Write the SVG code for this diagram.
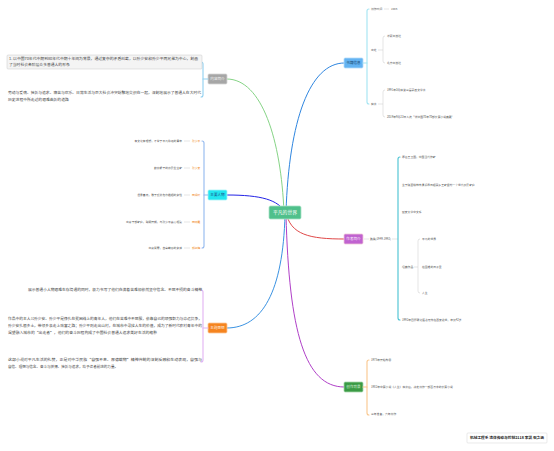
<svg xmlns="http://www.w3.org/2000/svg" width="554" height="451" viewBox="0 0 554 451">
<style>
text{font-family:"Noto Sans CJK SC","Noto Sans",sans-serif}
.p{font-size:3.8px;fill:#444}
.s{font-size:2.8px;fill:#555}
.n{font-size:2.8px;fill:#f08a24}
.b{font-size:3.6px;text-anchor:middle}
.br{fill:none;stroke-width:1.1;stroke-linecap:round}
.g{fill:none;stroke:#c8c8c8;stroke-width:0.5}
.c{fill:none;stroke-width:1;stroke-linecap:round}
</style>
<rect width="554" height="451" fill="#fff"/>
<g id="connectors">
<path class="c" stroke="#86d486" d="M284,212 C281,140 262,79 227,79"/>
<path class="c" stroke="#2f86e0" d="M286,212 C289,120 310,63 344,63"/>
<path class="c" stroke="#2222e6" d="M285,212 C278,200 262,195 227,195"/>
<path class="c" stroke="#e04848" d="M286,212 C290,235 310,239 344,239"/>
<path class="c" stroke="#3a92e2" d="M285,215 C283,292 262,328 227,328"/>
<path class="c" stroke="#b040c8" d="M286,215 C289,332 305,387 344,387"/>
</g>
<g id="center">
<rect x="269" y="206" width="32" height="13" rx="1.5" fill="#4fc08b" stroke="#a8e2c6" stroke-width="0.8"/>
<text x="285" y="214.3" font-size="4.8" fill="#fff" text-anchor="middle">平凡的世界</text>
</g>
<g id="intro">
<rect x="208" y="74" width="19" height="10" rx="1.2" fill="#a6a6a6" stroke="#d6d6d6" stroke-width="0.8"/>
<text class="b" x="217.5" y="80.3" fill="#f2f2f2">内容简介</text>
<path class="br" stroke="#8fd0f0" d="M208,79 H203"/>
<path class="br" stroke="#8fd0f0" d="M201,62 Q203,62 203,64 V95 Q203,97 201,97"/>
<rect x="7" y="55" width="195" height="14" rx="1" fill="#f4f4f4" stroke="#c8c8c8" stroke-width="0.5"/>
<text class="p" x="9" y="59.6" textLength="189" lengthAdjust="spacingAndGlyphs">1. 以中国70年代中期到80年代中期十年间为背景，通过复杂的矛盾纠葛，以孙少安和孙少平两兄弟为中心，刻画</text>
<text class="p" x="9" y="66.3">了当时社会各阶层众多普通人的形象</text>
<text class="p" x="8" y="94.3" textLength="193" lengthAdjust="spacingAndGlyphs">劳动与爱情、挫折与追求、痛苦与欢乐、日常生活与巨大社会冲突纷繁地交织在一起，深刻地展示了普通人在大时代</text>
<text class="p" x="8" y="101.3">历史进程中所走过的艰难曲折的道路</text>
</g>
<g id="bookinfo">
<rect x="344" y="58" width="19" height="10" rx="1.2" fill="#63b3f2" stroke="#b4dcfa" stroke-width="0.8"/>
<text class="b" x="353.5" y="64.3" fill="#1f4e79">书籍信息</text>
<path class="br" stroke="#a2e4f2" d="M363,63 H367"/>
<path class="br" stroke="#a2e4f2" d="M369,9 Q367,9 367,11 V102 Q367,104 369,104"/>
<text class="s" x="371" y="10">创作时间</text>
<path class="g" d="M384,9 H389"/>
<text class="s" x="391" y="10">1986</text>
<text class="s" x="371" y="51">出处</text>
<path class="g" d="M378,50 H383"/>
<path class="g" d="M385,36 Q383,36 383,38 V61 Q383,63 385,63"/>
<text class="s" x="387" y="37">华夏出版社</text>
<text class="s" x="387" y="64">北京出版社</text>
<text class="s" x="371" y="105">获奖</text>
<path class="g" d="M378,104 H383"/>
<path class="g" d="M385,90 Q383,90 383,92 V115 Q383,117 385,117"/>
<text class="s" x="387" y="91">1991年3月获第三届茅盾文学奖</text>
<text class="s" x="387" y="118">2019年9月23日入选“新中国70年70部长篇小说典藏”</text>
</g>
<g id="characters">
<rect x="208" y="190" width="19" height="10" rx="1.2" fill="#22e6f0" stroke="#a6f4f8" stroke-width="0.8"/>
<text class="b" x="217.5" y="196.3" fill="#1a4f8a">主要人物</text>
<path class="br" stroke="#92b8ee" d="M208,195 H204"/>
<path class="br" stroke="#92b8ee" d="M202,141 Q204,141 204,143 V246 Q204,248 202,248"/>
<text class="s" x="182" y="142" text-anchor="end">有文化有理想，不甘于平凡命运的青年</text>
<path class="g" d="M184,141 H190"/>
<text class="n" x="192" y="142">孙少平</text>
<text class="s" x="182" y="169" text-anchor="end">勤劳能干的农民企业家</text>
<path class="g" d="M184,168 H190"/>
<text class="n" x="192" y="169">孙少安</text>
<text class="s" x="182" y="196" text-anchor="end">温柔善良，敢于反抗包办婚姻的女性</text>
<path class="g" d="M184,195 H190"/>
<text class="n" x="192" y="196">田润叶</text>
<text class="s" x="182" y="223" text-anchor="end">出身干部家庭，聪明开朗，与孙少平真心相爱</text>
<path class="g" d="M184,222 H190"/>
<text class="n" x="192" y="223">田晓霞</text>
<text class="s" x="182" y="249" text-anchor="end">出身贫寒，自卑敏感的女孩</text>
<path class="g" d="M184,248 H190"/>
<text class="n" x="192" y="249">郝红梅</text>
</g>
<g id="author">
<rect x="344" y="234" width="19" height="10" rx="1.2" fill="#c062d0" stroke="#f0c8d8" stroke-width="0.8"/>
<text class="b" x="353.5" y="240.3" fill="#f8eafc">作者简介</text>
<path class="g" d="M364,239 H369"/>
<text class="s" x="370" y="240">路遥(1949-1992)</text>
<path class="g" d="M392,239 H398"/>
<path class="br" stroke="#48c2d2" d="M400,157 Q398,157 398,159 V318 Q398,320 400,320"/>
<text class="s" x="402" y="158">原名王卫国，中国当代作家</text>
<text class="s" x="402" y="186">生于陕西榆林市清涧县石咀驿乡王家堡村一个世代农民家庭</text>
<text class="s" x="402" y="213">延安大学中文系</text>
<text class="s" x="402" y="268">经典作品</text>
<path class="g" d="M414,267 H418"/>
<path class="g" d="M420,239 Q418,239 418,241 V291 Q418,293 420,293"/>
<text class="s" x="422" y="240">平凡的世界</text>
<text class="s" x="422" y="268">在困难的日子里</text>
<text class="s" x="422" y="294">人生</text>
<text class="s" x="402" y="321">1992年因肝硬化医治无效在西安逝世，年仅42岁</text>
</g>
<g id="theme">
<rect x="208" y="323" width="19" height="10" rx="1.2" fill="#f5841f" stroke="#fbc89a" stroke-width="0.8"/>
<text class="b" x="217.5" y="329.3" fill="#fff3e6">主题思想</text>
<path class="br" stroke="#e2b2f2" d="M208,328 H203"/>
<path class="br" stroke="#e2b2f2" d="M201,290 Q203,290 203,292 V360 Q203,362 201,362"/>
<text class="p" x="28" y="291.3" textLength="174" lengthAdjust="spacingAndGlyphs">展示普通小人物艰难生存境遇的同时，极力书写了他们充满着苦难却依然坚守信念、不屈不挠的奋斗精神</text>
<text class="p" x="8" y="320.3" textLength="194" lengthAdjust="spacingAndGlyphs">作品中的主人公孙少安、孙少平是挣扎在贫困线上的青年人，他们在苦难中不屈服，依靠自己的顽强毅力与命运抗争，</text>
<text class="p" x="8" y="327.3" textLength="194" lengthAdjust="spacingAndGlyphs">孙少安扎根乡土，带领乡亲走上致富之路；孙少平则走出山村，在城市中寻找人生的价值，成为了新时代农村青年中的</text>
<text class="p" x="8" y="334.3" textLength="149" lengthAdjust="spacingAndGlyphs">渴望融入城市的“出走者”，他们的奋斗历程构成了中国社会普通人追求美好生活的缩影</text>
<text class="p" x="8" y="361.3" textLength="194" lengthAdjust="spacingAndGlyphs">这部小说对平凡生活的礼赞，正是对中华民族“自强不息、厚德载物”精神传统的深刻反映和生动表现，自强与</text>
<text class="p" x="8" y="367.8" textLength="110" lengthAdjust="spacingAndGlyphs">自信、理想与信念、奋斗与拼搏、挫折与追求，给予读者前进的力量。</text>
</g>
<g id="background">
<rect x="344" y="382" width="19" height="10" rx="1.2" fill="#3a9a44" stroke="#a8d8ac" stroke-width="0.8"/>
<text class="b" x="353.5" y="388.3" fill="#d8f0da">创作背景</text>
<path class="br" stroke="#f9c68c" d="M363,387 H367"/>
<path class="br" stroke="#f9c68c" d="M369,360 Q367,360 367,362 V413 Q367,415 369,415"/>
<text class="s" x="371" y="361">1975年开始构思</text>
<text class="s" x="371" y="388">1982年中篇小说《人生》获奖后，决定创作一部百万字的长篇小说</text>
<text class="s" x="371" y="415">三年准备，六年创作</text>
</g>
<g id="signature">
<rect x="467" y="433" width="80" height="10" rx="1" fill="#fff" stroke="#dcdcdc" stroke-width="0.6"/>
<text x="470" y="439.3" font-size="3.6" font-weight="bold" fill="#222" textLength="74" lengthAdjust="spacingAndGlyphs">机械工程系 流体传动与控制2118 李凯 石之涵</text>
</g>
</svg>
